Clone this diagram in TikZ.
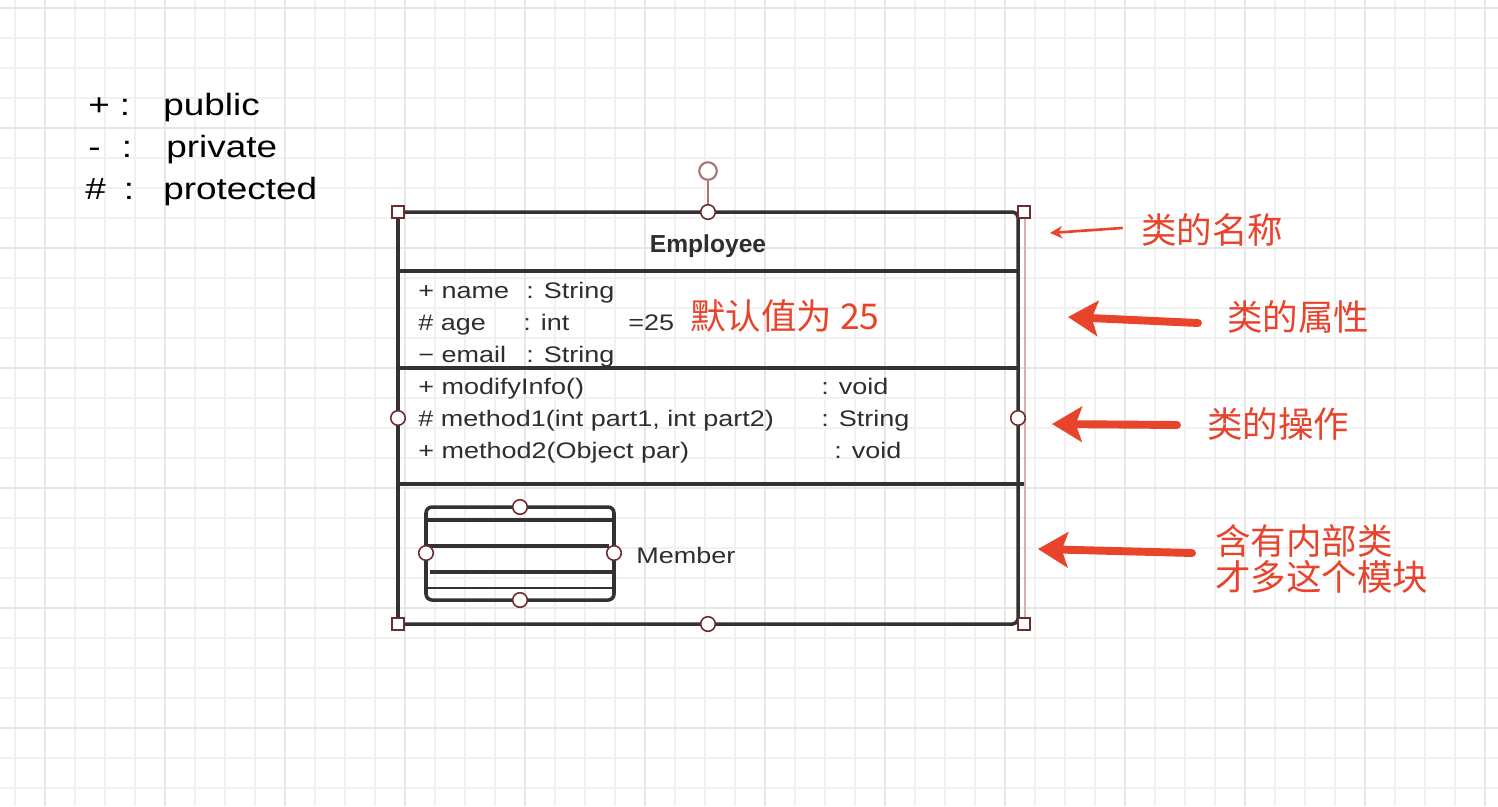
\documentclass[tikz,border=0pt]{standalone}
\usepackage{fontspec}
\setmainfont{Liberation Sans}[FakeStretch=1.2]
\newfontfamily\namefont{Liberation Sans Bold}
\newfontfamily\cjk{Noto Sans CJK SC}
\usetikzlibrary{arrows.meta}
\definecolor{gridminor}{HTML}{F1F1F1}
\definecolor{gridmajor}{HTML}{E6E6E6}
\definecolor{boxline}{HTML}{353031}
\definecolor{handle}{HTML}{6E2C2C}
\definecolor{rothandle}{HTML}{A87474}
\definecolor{selline}{HTML}{D8AEAE}
\definecolor{note}{HTML}{E8432B}
\definecolor{umltext}{HTML}{2E2E2E}
\tikzset{
  member/.style={anchor=base west, inner sep=0pt, text=umltext, font=\fontsize{12.8}{15}\selectfont},
  legend/.style={anchor=base west, inner sep=0pt, font=\fontsize{17.5}{21}\selectfont},
  notetext/.style={anchor=west, inner sep=0pt, text=note, align=left, font=\cjk\fontsize{20.2}{20.4}\selectfont},
  sizer/.style={draw=handle, fill=white, line width=1.1pt, minimum size=7.3pt, inner sep=0pt},
  knob/.style={circle, draw=handle, fill=white, line width=0.9pt, minimum size=8.3pt, inner sep=0pt},
  rotknob/.style={circle, draw=rothandle, fill=white, line width=1.2pt, minimum size=10pt, inner sep=0pt},
  notearrow/.style={draw=note, line width=1.5pt, line cap=round, -{Stealth[length=7pt, width=7pt]}},
  bignotearrow/.style={draw=note, line width=4.5pt, line cap=round, -{Stealth[length=17pt, width=20pt, inset=3.5pt]}}
}

\begin{document}
\begin{tikzpicture}[x=0.02cm, y=-0.02cm]
			%%%%% START %%%%%
			
			\fill[white] (0, 0) rectangle (1498, 806);
			\useasboundingbox (0, 0) rectangle (1498, 806);
			
			% grid
			\foreach \gx in {15,45,...,1485} \draw[gridminor, line width=0.85pt] (\gx, 0) -- (\gx, 806);
			\foreach \gy in {8,38,...,788} \draw[gridminor, line width=0.85pt] (0, \gy) -- (1498, \gy);
			\foreach \gx in {45,165,...,1485} \draw[gridmajor, line width=0.85pt] (\gx, 0) -- (\gx, 806);
			\foreach \gy in {8,128,...,728} \draw[gridmajor, line width=0.85pt] (0, \gy) -- (1498, \gy);
			
			% legend
			\node[legend] (pubsign) at (88, 115) {+};
			\node[legend, anchor=base] (pubcolon) at (125, 115) {:};
			\node[legend] (pubword) at (163, 115) {public};
			\node[legend] (privsign) at (88, 157) {-};
			\node[legend, anchor=base] (privcolon) at (127, 157) {:};
			\node[legend] (privword) at (166, 157) {private};
			\node[legend] (protsign) at (85, 199) {\#};
			\node[legend, anchor=base] (protcolon) at (129, 199) {:};
			\node[legend] (protword) at (163, 199) {protected};
			
			% class box
			\draw[selline, line width=0.85pt] (1025, 212) -- (1025, 624);
			\draw[boxline, line width=2pt, rounded corners=3pt] (398, 212) rectangle (1018, 624);
			\draw[boxline, line width=2pt] (398, 271) -- (1018, 271);
			\draw[boxline, line width=2pt] (398, 368) -- (1018, 368);
			\draw[boxline, line width=2.4pt] (398, 484) -- (1024, 484);
			
			\node[anchor=base, inner sep=0pt, text=umltext, font=\namefont\fontsize{14}{16}\selectfont] (clsname) at (708, 252) {Employee};
			
			\node[member] (attrname) at (418, 298) {+ name};
			\node[member] (attrnametype) at (526, 298) {: String};
			\node[member] (attrage) at (418, 330) {\# age};
			\node[member] (attragetype) at (523, 330) {: int};
			\node[member] (attragedef) at (628, 330) {=25};
			\node[member] (attremail) at (418, 362) {− email};
			\node[member] (attremailtype) at (526, 362) {: String};
			
			\node[member] (opmodify) at (418, 394) {+ modifyInfo()};
			\node[member] (opmodifytype) at (821, 394) {: void};
			\node[member] (opmethodone) at (418, 426) {\# method1(int part1, int part2)};
			\node[member] (opmethodonetype) at (821, 426) {: String};
			\node[member] (opmethodtwo) at (418, 458) {+ method2(Object par)};
			\node[member] (opmethodtwotype) at (834, 458) {: void};
			
			\node[notetext] (defaultnote) at (690, 316) {默认值为 25};
			
			% inner class
			\draw[boxline, line width=2pt, rounded corners=3.4pt] (426, 507) rectangle (614, 600);
			\draw[boxline, line width=2pt] (426, 520) -- (614, 520);
			\draw[boxline, line width=2pt] (426, 546) -- (609, 546);
			\draw[boxline, line width=2pt] (430, 572) -- (614, 572);
			\draw[boxline, line width=1.3pt] (426, 588) -- (614, 588);
			\node[member] (innername) at (636, 563) {Member};
			
			\node[knob] (innern) at (520, 507) {};
			\node[knob] (inners) at (520, 600) {};
			\node[knob] (innerw) at (426, 553) {};
			\node[knob] (innere) at (614, 553) {};
			
			% selection handles
			\node[rotknob] (rot) at (708, 171) {};
			\node[knob] (selnorth) at (708, 212) {};
			\draw[rothandle, line width=1.2pt] (rot) -- (selnorth);
			\node[knob] (selsouth) at (708, 624) {};
			\node[knob] (selwest) at (398, 418) {};
			\node[knob] (seleast) at (1018, 418) {};
			\node[sizer] (selnw) at (398, 212) {};
			\node[sizer] (selne) at (1024, 212) {};
			\node[sizer] (selsw) at (398, 624) {};
			\node[sizer] (selse) at (1024, 624) {};
			
			% notes
			\node[notetext] (namenote) at (1141, 230) {类的名称};
			\node[notetext] (attrnote) at (1227, 317) {类的属性};
			\node[notetext] (opnote) at (1207, 424) {类的操作};
			\node[notetext] (innernote) at (1215, 559) {含有内部类\\才多这个模块};
			
			\coordinate (nametail) at (1122, 228);
			\coordinate (nametip) at (1050, 233);
			\coordinate (attrtail) at (1198, 323);
			\coordinate (attrtip) at (1068, 317);
			\coordinate (optail) at (1177, 425);
			\coordinate (optip) at (1052, 424);
			\coordinate (innertail) at (1192, 553);
			\coordinate (innertip) at (1038, 549);
			
			\draw[notearrow] (nametail) -- (nametip);
			\draw[bignotearrow] (attrtail) -- (attrtip);
			\draw[bignotearrow] (optail) -- (optip);
			\draw[bignotearrow] (innertail) -- (innertip);
			
			%%%%% END %%%%%
		\end{tikzpicture}
\end{document}
